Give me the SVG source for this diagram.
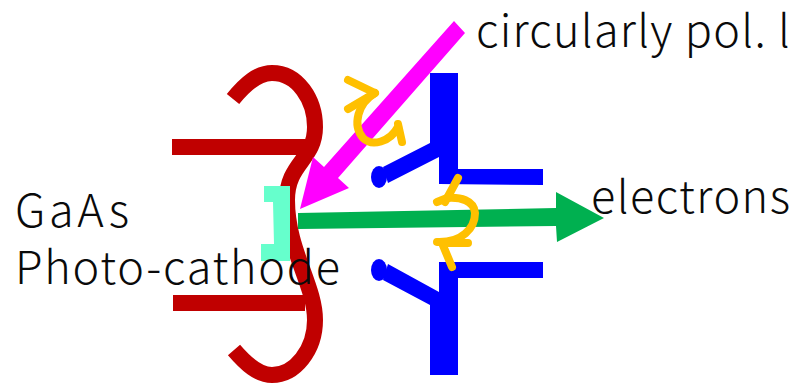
<svg xmlns="http://www.w3.org/2000/svg" width="794" height="384" viewBox="0 0 794 384">
<style>
.t{font-family:"Noto Sans CJK JP","Noto Sans",sans-serif;font-size:45px;font-weight:300;fill:#0a0a0a}
.red{fill:none;stroke:#c00000;stroke-width:16}
.redb{fill:#c00000}
.blue{fill:#0000ff}
.y{fill:none;stroke:#ffc000;stroke-width:8;stroke-linecap:round;stroke-linejoin:round}
</style>
<rect width="794" height="384" fill="#fff"/>
<g id="cathode-electrode">
<path class="red" d="M233,99 C246,83 258,73 272,73 C298,73 315,100 315,127 C315,160 287,163 287,200 C287,250 315,285 315,320 C315,350 295,375 272,375 C258,375 246,364 234,350"/>
<rect class="redb" x="172" y="139" width="135" height="16"/>
<rect class="redb" x="173" y="295" width="132" height="16"/>
</g>
<g id="photocathode"><polygon fill="#66ffcc" points="264,186 290,186 290,261 261,261 261,244 274,244 273,202 264,202"/></g>
<g id="anode-top">
<polygon class="blue" points="430,73 458,73 458,169 543,169 543,185 439,184 439,157 388,183 383,167 430,143"/>
<ellipse class="blue" cx="379" cy="177" rx="8" ry="11"/>
</g>
<g id="anode-bottom">
<polygon class="blue" points="439,262 543,262 543,278 458,278 458,375 430,375 430,305 383,280 388,264 439,292"/>
<ellipse class="blue" cx="379" cy="270" rx="8" ry="11"/>
</g>
<g id="connectors">
<polygon id="light-beam" fill="#ff00ff" points="454,21 465,33 338,178 349,188 300,209 313,157 324,167"/>
<polygon id="electron-beam" fill="#00b050" points="298,213 556,208 556,192 604,218 557,242 556,226 298,229"/>
<g id="pol-top" class="y">
<path d="M375,93 C358,103 352,125 363,138 C372,147 390,142 398,127"/>
<path d="M348,80 L375,93 L348,109"/>
<path d="M398,124 L402,142"/>
</g>
<g id="pol-electrons" class="y">
<path d="M437,202 L447,198 C460,197 474,200 475,213 C475,228 462,243 437,242"/>
<path d="M458,178 L445,202"/>
<path d="M452,267 L442,243 L468,243"/>
</g>
</g>
<g id="labels">
<text class="t" x="476" y="47" textLength="314" lengthAdjust="spacing">circularly pol. l</text>
<text class="t" x="591" y="213" textLength="199" lengthAdjust="spacing">electrons</text>
<text class="t" x="15" y="227" textLength="114" lengthAdjust="spacing">GaAs</text>
<text class="t" x="15" y="284" textLength="325" lengthAdjust="spacing">Photo-cathode</text>
</g>
</svg>
